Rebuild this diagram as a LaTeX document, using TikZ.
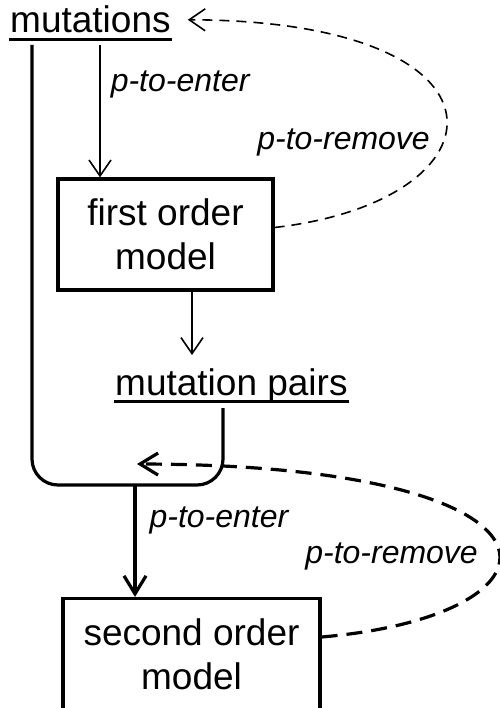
\documentclass[tikz,border=0pt]{standalone}
\usepackage{fontspec}
\setmainfont{Liberation Sans}
\usetikzlibrary{arrows.meta}

\tikzset{
  txt/.style={font=\fontsize{37}{44}\selectfont, inner sep=0pt},
  lbl/.style={font=\fontsize{32}{38}\selectfont\itshape, inner sep=0pt},
  modelbox/.style={txt, draw, line width=3.2pt, align=center, minimum height=111pt},
  thinarrow/.style={line width=1.6pt, -{Straight Barb[length=16pt,width=22pt]}},
  thickarrow/.style={line width=3.2pt, -{Straight Barb[length=18pt,width=22pt]}},
  thindash/.style={thinarrow, dash pattern=on 10pt off 7pt},
  thickdash/.style={thickarrow, dash pattern=on 16pt off 9pt},
  uline/.style={line width=3pt}
}

\begin{document}
\begin{tikzpicture}[x=1pt, y=1pt]
\useasboundingbox (0,0) rectangle (499,-708);

\node[txt, anchor=base west] (mut) at (10,-33) {mutations};
\node[modelbox, minimum width=215pt] (first) at (165.5,-234.5) {first order\\model};
\node[txt, anchor=base west] (pairs) at (115,-395) {mutation pairs};
\node[modelbox, minimum width=257pt] (second) at (191.5,-654) {second order\\model};
\coordinate (join) at (135,-485);

\draw[uline] ([shift={(-1pt,-7pt)}]mut.base west) -- ([shift={(1pt,-7pt)}]mut.base east);
\draw[uline] ([shift={(-1pt,-6.5pt)}]pairs.base west) -- ([shift={(1pt,-6.5pt)}]pairs.base east);

\draw[thinarrow] ([xshift=90pt,yshift=-12pt]mut.base west) coordinate (s1) -- (s1 |- first.north)
  node[lbl, pos=0.35, anchor=base west, xshift=10pt] (enter1) {p-to-enter};
\draw[thinarrow] ([xshift=26.5pt]first.south) coordinate (s2) -- ([yshift=40pt]s2 |- pairs.base);

\draw[line width=3.2pt, rounded corners=26pt] ([xshift=22pt,yshift=-12pt]mut.base west) |- (join)
  -| ([xshift=108pt,yshift=-13pt]pairs.base west);
\draw[thickarrow] (join) -- (join |- second.north)
  node[lbl, pos=0.38, anchor=base west, xshift=13pt] (enter2) {p-to-enter};

\draw[thindash] ([yshift=7pt]first.east) .. controls +(235,27) and +(338,-1) .. ([xshift=17pt]mut.east);
\node[lbl, anchor=base east] (remove1) at (430,-150) {p-to-remove};

\draw[thickdash] ([yshift=17pt]second.east) .. controls +(257,22) and +(453,-1) .. ([shift={(2pt,21pt)}]join);
\node[lbl, anchor=base east] (remove2) at (478,-563) {p-to-remove};

\end{tikzpicture}
\end{document}
